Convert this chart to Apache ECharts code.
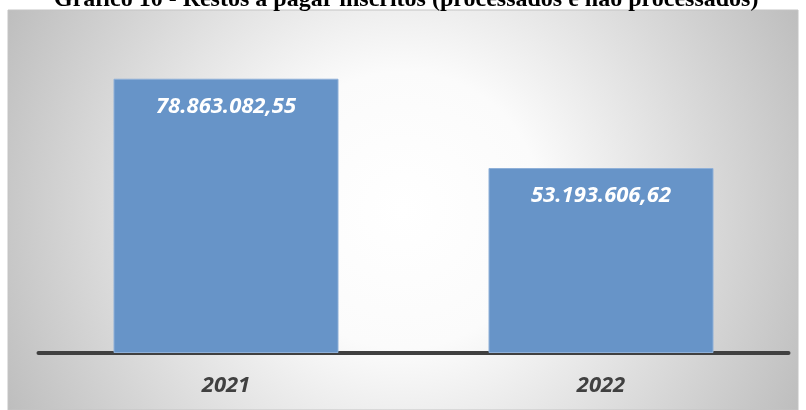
<!DOCTYPE html>
<html>
<head>
<meta charset="utf-8">
<script src="https://cdn.jsdelivr.net/npm/echarts@6/dist/echarts.min.js"></script>
<style>
  html, body { margin: 0; padding: 0; background: #ffffff; }
  #chart { width: 806px; height: 410px; }
</style>
</head>
<body>
<div id="chart"></div>
<script>
// Restos a pagar inscritos por exercício
const categories = ['2021', '2022'];
const values = [78863082.55, 53193606.62];

// Brazilian number format: 78.863.082,55
function formatBR(v) {
  const parts = v.toFixed(2).split('.');
  const intPart = parts[0].replace(/\B(?=(\d{3})+(?!\d))/g, '.');
  return intPart + ',' + parts[1];
}

const chart = echarts.init(document.getElementById('chart'), null, { renderer: 'canvas' });

const option = {
  animation: false,
  backgroundColor: '#ffffff',
  graphic: [
    {
      type: 'rect',
      z: -10,
      shape: { x: 8, y: 10, width: 790, height: 400 },
      style: {
        fill: new echarts.graphic.RadialGradient(0.5, 0.5, 1.15, [
          { offset: 0, color: '#ffffff' },
          { offset: 0.3, color: '#fbfbfb' },
          { offset: 1, color: '#bababa' }
        ]),
        stroke: '#c4c4c4',
        lineWidth: 1
      }
    },
    {
      type: 'text',
      left: 54,
      top: -12,
      style: {
        text: 'Gráfico 10 - Restos a pagar inscritos (processados e não processados)',
        font: 'bold 24px "Liberation Serif", "Times New Roman", serif',
        fill: '#000000'
      }
    }
  ],
  grid: { left: 38.5, right: 17.5, top: 40, bottom: 57 },
  xAxis: {
    type: 'category',
    data: categories,
    axisTick: { show: false },
    axisLine: { show: true, lineStyle: { color: '#404040', width: 4 } },
    axisLabel: {
      margin: 22,
      color: '#404040',
      fontFamily: '"Open Sans", sans-serif',
      fontSize: 22,
      fontWeight: 'bold',
      fontStyle: 'italic'
    }
  },
  yAxis: {
    type: 'value',
    min: 0,
    max: 90000000,
    show: false,
    splitLine: { show: false }
  },
  series: [
    {
      type: 'bar',
      data: values,
      barWidth: '60%',
      itemStyle: {
        color: '#6794c8',
        borderColor: '#8fb0d8',
        borderWidth: 1
      },
      label: {
        show: true,
        position: 'insideTop',
        distance: 17,
        formatter: p => formatBR(p.value),
        color: '#ffffff',
        fontFamily: '"Open Sans", sans-serif',
        fontSize: 22,
        fontWeight: 'bold',
        fontStyle: 'italic'
      }
    }
  ]
};

chart.setOption(option);
</script>
</body>
</html>
